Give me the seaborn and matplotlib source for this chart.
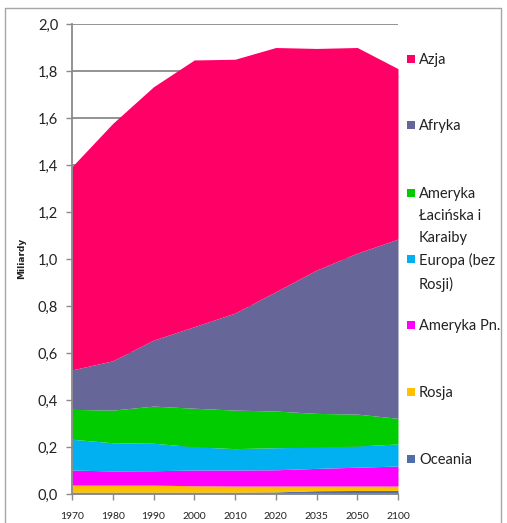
import matplotlib
matplotlib.use("Agg")
import matplotlib.pyplot as plt
from matplotlib.patches import Rectangle
from matplotlib.lines import Line2D
import seaborn as sns
import numpy as np
import pandas as pd

# ---- data (billions) ----
years = ["1970", "1980", "1990", "2000", "2010", "2020", "2035", "2050", "2100"]
oceania = [0.008, 0.008, 0.008, 0.008, 0.008, 0.009, 0.014, 0.015, 0.015]
rosja = [0.030, 0.030, 0.030, 0.027, 0.026, 0.025, 0.020, 0.019, 0.019]
ameryka_pn = [0.064, 0.060, 0.061, 0.067, 0.068, 0.069, 0.075, 0.080, 0.085]
europa = [0.131, 0.120, 0.117, 0.099, 0.091, 0.094, 0.090, 0.090, 0.094]
ameryka_lac = [0.127, 0.139, 0.158, 0.164, 0.164, 0.156, 0.144, 0.136, 0.109]
afryka = [0.168, 0.210, 0.281, 0.347, 0.413, 0.508, 0.610, 0.685, 0.763]
azja = [0.865, 1.010, 1.078, 1.135, 1.080, 1.039, 0.943, 0.875, 0.725]

series_names = ["Oceania", "Rosja", "Ameryka Pn.", "Europa (bez Rosji)",
                "Ameryka Łacińska i Karaiby", "Afryka", "Azja"]
legend_labels = ["Oceania", "Rosja", "Ameryka Pn.", "Europa (bez\nRosji)",
                 "Ameryka\nŁacińska i\nKaraiby", "Afryka", "Azja"]
colors = ["#4F6FA8", "#FFC000", "#FF00FF", "#00B0F0", "#00CC00", "#666699", "#FF0066"]
yticks = [0.0, 0.2, 0.4, 0.6, 0.8, 1.0, 1.2, 1.4, 1.6, 1.8, 2.0]
y_label = "Miliardy"

df = pd.DataFrame({"rok": years, "Oceania": oceania, "Rosja": rosja,
                   "Ameryka Pn.": ameryka_pn, "Europa (bez Rosji)": europa,
                   "Ameryka Łacińska i Karaiby": ameryka_lac,
                   "Afryka": afryka, "Azja": azja})

sns.set_theme(style="white")
plt.rcParams["font.family"] = ["Lato", "DejaVu Sans"]

W, H = 507, 523
fig = plt.figure(figsize=(W / 100, H / 100), dpi=100)
ax = fig.add_axes([72 / W, 1 - 494 / H, 326 / W, 470 / H])

x = np.arange(len(years))
ax.stackplot(x, *[df[n].values for n in series_names], colors=colors,
             linewidth=0, zorder=3)

ax.set_xlim(0, len(years) - 1)
ax.set_ylim(0, 2.0)
ax.set_yticks(yticks)
ax.set_yticklabels([f"{v:.1f}".replace(".", ",") for v in yticks], fontsize=10.5, color="#222222")
ax.set_xticks(x)
ax.set_xticklabels(years, fontsize=7.5, color="#222222")
ax.yaxis.grid(True, color="#8a8a8a", linewidth=1.3, zorder=0)
ax.xaxis.grid(False)
ax.set_axisbelow(True)
for s in ["top", "right"]:
    ax.spines[s].set_visible(False)
for s in ["left", "bottom"]:
    ax.spines[s].set_color("#8a8a8a")
    ax.spines[s].set_linewidth(1.3)
    ax.spines[s].set_zorder(4)
ax.tick_params(axis="both", direction="out", length=4, width=1.0, color="#8a8a8a",
               left=True, bottom=True, pad=4)
ax.tick_params(axis="y", pad=6)
ax.tick_params(axis="x", pad=9)

fig.text(22 / W, 1 - 258 / H, y_label, rotation=90, ha="center", va="center",
         fontsize=6.5, fontweight="bold", color="#222222", family="DejaVu Sans")

# legend (Excel-style, right side)
leg_y = {"Azja": 60, "Afryka": 126, "Ameryka Łacińska i Karaiby": 194,
         "Europa (bez Rosji)": 260, "Ameryka Pn.": 326, "Rosja": 393, "Oceania": 460}
for name, lab, col in zip(series_names, legend_labels, colors):
    yc = leg_y[name]
    fig.patches.append(Rectangle((407 / W, 1 - (yc + 3) / H), 8 / W, 8 / H,
                                 transform=fig.transFigure, facecolor=col,
                                 edgecolor="none"))
    fig.text(419 / W, 1 - (yc - 7) / H, lab, ha="left", va="top", fontsize=10.5,
             color="#222222", linespacing=1.72)

# outer frame
fc = "#a6a6a6"
fig.lines.append(Line2D([5 / W, 5 / W], [0, 1 - 8 / H], transform=fig.transFigure, color=fc, lw=1))
fig.lines.append(Line2D([5 / W, 501 / W], [1 - 8 / H, 1 - 8 / H], transform=fig.transFigure, color=fc, lw=1))
fig.lines.append(Line2D([501 / W, 501 / W], [0, 1 - 8 / H], transform=fig.transFigure, color=fc, lw=1))

fig.savefig("out.png", dpi=100)
